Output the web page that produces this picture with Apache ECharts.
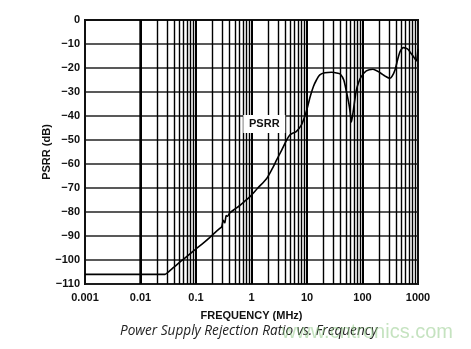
<!DOCTYPE html>
<html>
<head>
<meta charset="utf-8">
<script src="https://cdn.jsdelivr.net/npm/echarts@6/dist/echarts.min.js"></script>
<style>
  html, body { margin: 0; padding: 0; background: #fff; }
  #chart { width: 471px; height: 349px; }
</style>
</head>
<body>
<div id="chart"></div>
<script>
// Frequency points (MHz) along the PSRR curve
const freqMHz = [0.001, 0.01, 0.02, 0.0276, 0.032, 0.04, 0.0557, 0.075, 0.1, 0.135, 0.178, 0.22, 0.27,
  0.29, 0.31, 0.33, 0.35, 0.37, 0.4, 0.5, 0.6, 0.75, 0.94, 1.3, 1.88, 2.4, 2.84, 3.5, 4.3, 4.9,
  5.5, 6.4, 7.9, 9.0, 9.9, 11.4, 13, 14.8, 17, 21, 27.6, 36, 40, 46, 52, 57, 60, 63, 66, 70, 77,
  85, 95, 117, 154, 208, 260, 310, 340, 385, 430, 475, 546, 610, 670, 750, 830, 900, 940, 970, 1000];
// PSRR in dB at each frequency
const psrrDb = [-106, -106, -106, -106, -104.9, -103, -100.2, -97.8, -95.4, -93, -90.6, -88.6, -86.8,
  -86.2, -83.5, -84.5, -81.5, -81.8, -80.5, -78.8, -77.5, -75.6, -73.6, -70, -66, -61.7, -58.3, -54.2, -50, -47.9,
  -47.2, -46.5, -43.8, -40.5, -37.5, -32, -27.8, -25, -22.9, -22, -21.8, -22.2, -22.6, -25, -30.5, -35, -38.5, -42.5, -40, -36, -29.5,
  -26, -23.6, -21.2, -20.5, -22, -23.5, -24.3, -23.5, -20.8, -16.5, -13.2, -11.5, -11.8, -12.4, -14, -15.3, -16.5, -17, -15, -12];

// Axis tick labels
const xTickLabels = ['0.001', '0.01', '0.1', '1', '10', '100', '1000'];
const yMin = -110, yMax = 0, yStep = 10;

// Decades and the 2..9 multiples inside each for the log grid
const decades = [0.001, 0.01, 0.1, 1, 10, 100];
const minorMultiples = [2, 3, 4, 5, 6, 7, 8, 9];

const minorGrid = [];
decades.forEach(d => minorMultiples.forEach(m => minorGrid.push({ xAxis: Number((d * m).toPrecision(3)) })));
const majorGrid = decades.slice(1).map(d => ({ xAxis: d }));

const labelFont = { fontFamily: 'Liberation Sans, Arial, sans-serif', fontWeight: 'bold', fontSize: 11, color: '#111' };

const chart = echarts.init(document.getElementById('chart'), null, { renderer: 'canvas' });
chart.setOption({
  animation: false,
  backgroundColor: '#fff',
  grid: { left: 85, right: 53, top: 20, bottom: 65, show: true, borderColor: '#111', borderWidth: 2 },
  xAxis: {
    type: 'log', logBase: 10, min: 0.001, max: 1000, splitNumber: 6,
    name: 'FREQUENCY (MHz)', nameLocation: 'middle', nameGap: 26, nameMoveOverlap: false,
    nameTextStyle: labelFont,
    axisLine: { lineStyle: { color: '#111', width: 2 } },
    axisTick: { show: false },
    axisLabel: Object.assign({ margin: 8,
      formatter: v => {
        const e = Math.round(Math.log10(v));
        return xTickLabels[e + 3] || '';
      } }, labelFont),
    splitLine: { show: false }
  },
  yAxis: {
    type: 'value', min: yMin, max: yMax, interval: yStep,
    name: 'PSRR (dB)', nameLocation: 'middle', nameGap: 33, nameMoveOverlap: false,
    nameTextStyle: labelFont,
    axisLine: { show: true, lineStyle: { color: '#111', width: 2 } },
    axisTick: { show: false },
    axisLabel: Object.assign({ margin: 5, formatter: v => String(v).replace('-', '\u2212') }, labelFont),
    splitLine: { show: true, lineStyle: { color: '#222', width: 1.6 } }
  },
  graphic: [
    {
      type: 'text', left: 120, top: 324, z: 10,
      style: { text: 'Power Supply Rejection Ratio vs. Frequency', font: 'italic 13.6px "Open Sans", sans-serif', fill: '#222' }
    },
    {
      type: 'text', right: 18, top: 322, z: 11,
      style: { text: 'www.cntronics.com', font: '20px "Liberation Sans", Arial, sans-serif', fill: 'rgba(140,200,130,0.5)' }
    }
  ],
  series: [
    {
      name: 'grid', type: 'line', data: [], silent: true,
      markLine: {
        silent: true, symbol: 'none', label: { show: false }, animation: false,
        data: minorGrid.map(p => Object.assign({ lineStyle: { color: '#000', width: 1.4, type: 'solid', opacity: 1 } }, p))
          .concat(majorGrid.map(p => Object.assign({ lineStyle: { color: '#000', width: 2, type: 'solid', opacity: 1 } }, p)))
      }
    },
    {
      name: 'PSRR', type: 'line', z: 5, showSymbol: false, smooth: 0.25,
      data: freqMHz.map((f, i) => [f, psrrDb[i]]),
      lineStyle: { color: '#000', width: 1.6 },
      markPoint: {
        silent: true, animation: false,
        data: [{ coord: [1.7, -43.3], symbol: 'rect', symbolSize: [42, 18], itemStyle: { color: '#fff' },
          label: { show: true, position: 'inside', formatter: 'PSRR', fontFamily: 'Liberation Sans, Arial, sans-serif', fontWeight: 'bold', fontSize: 11, color: '#111' } }]
      }
    }
  ]
});
</script>
</body>
</html>
